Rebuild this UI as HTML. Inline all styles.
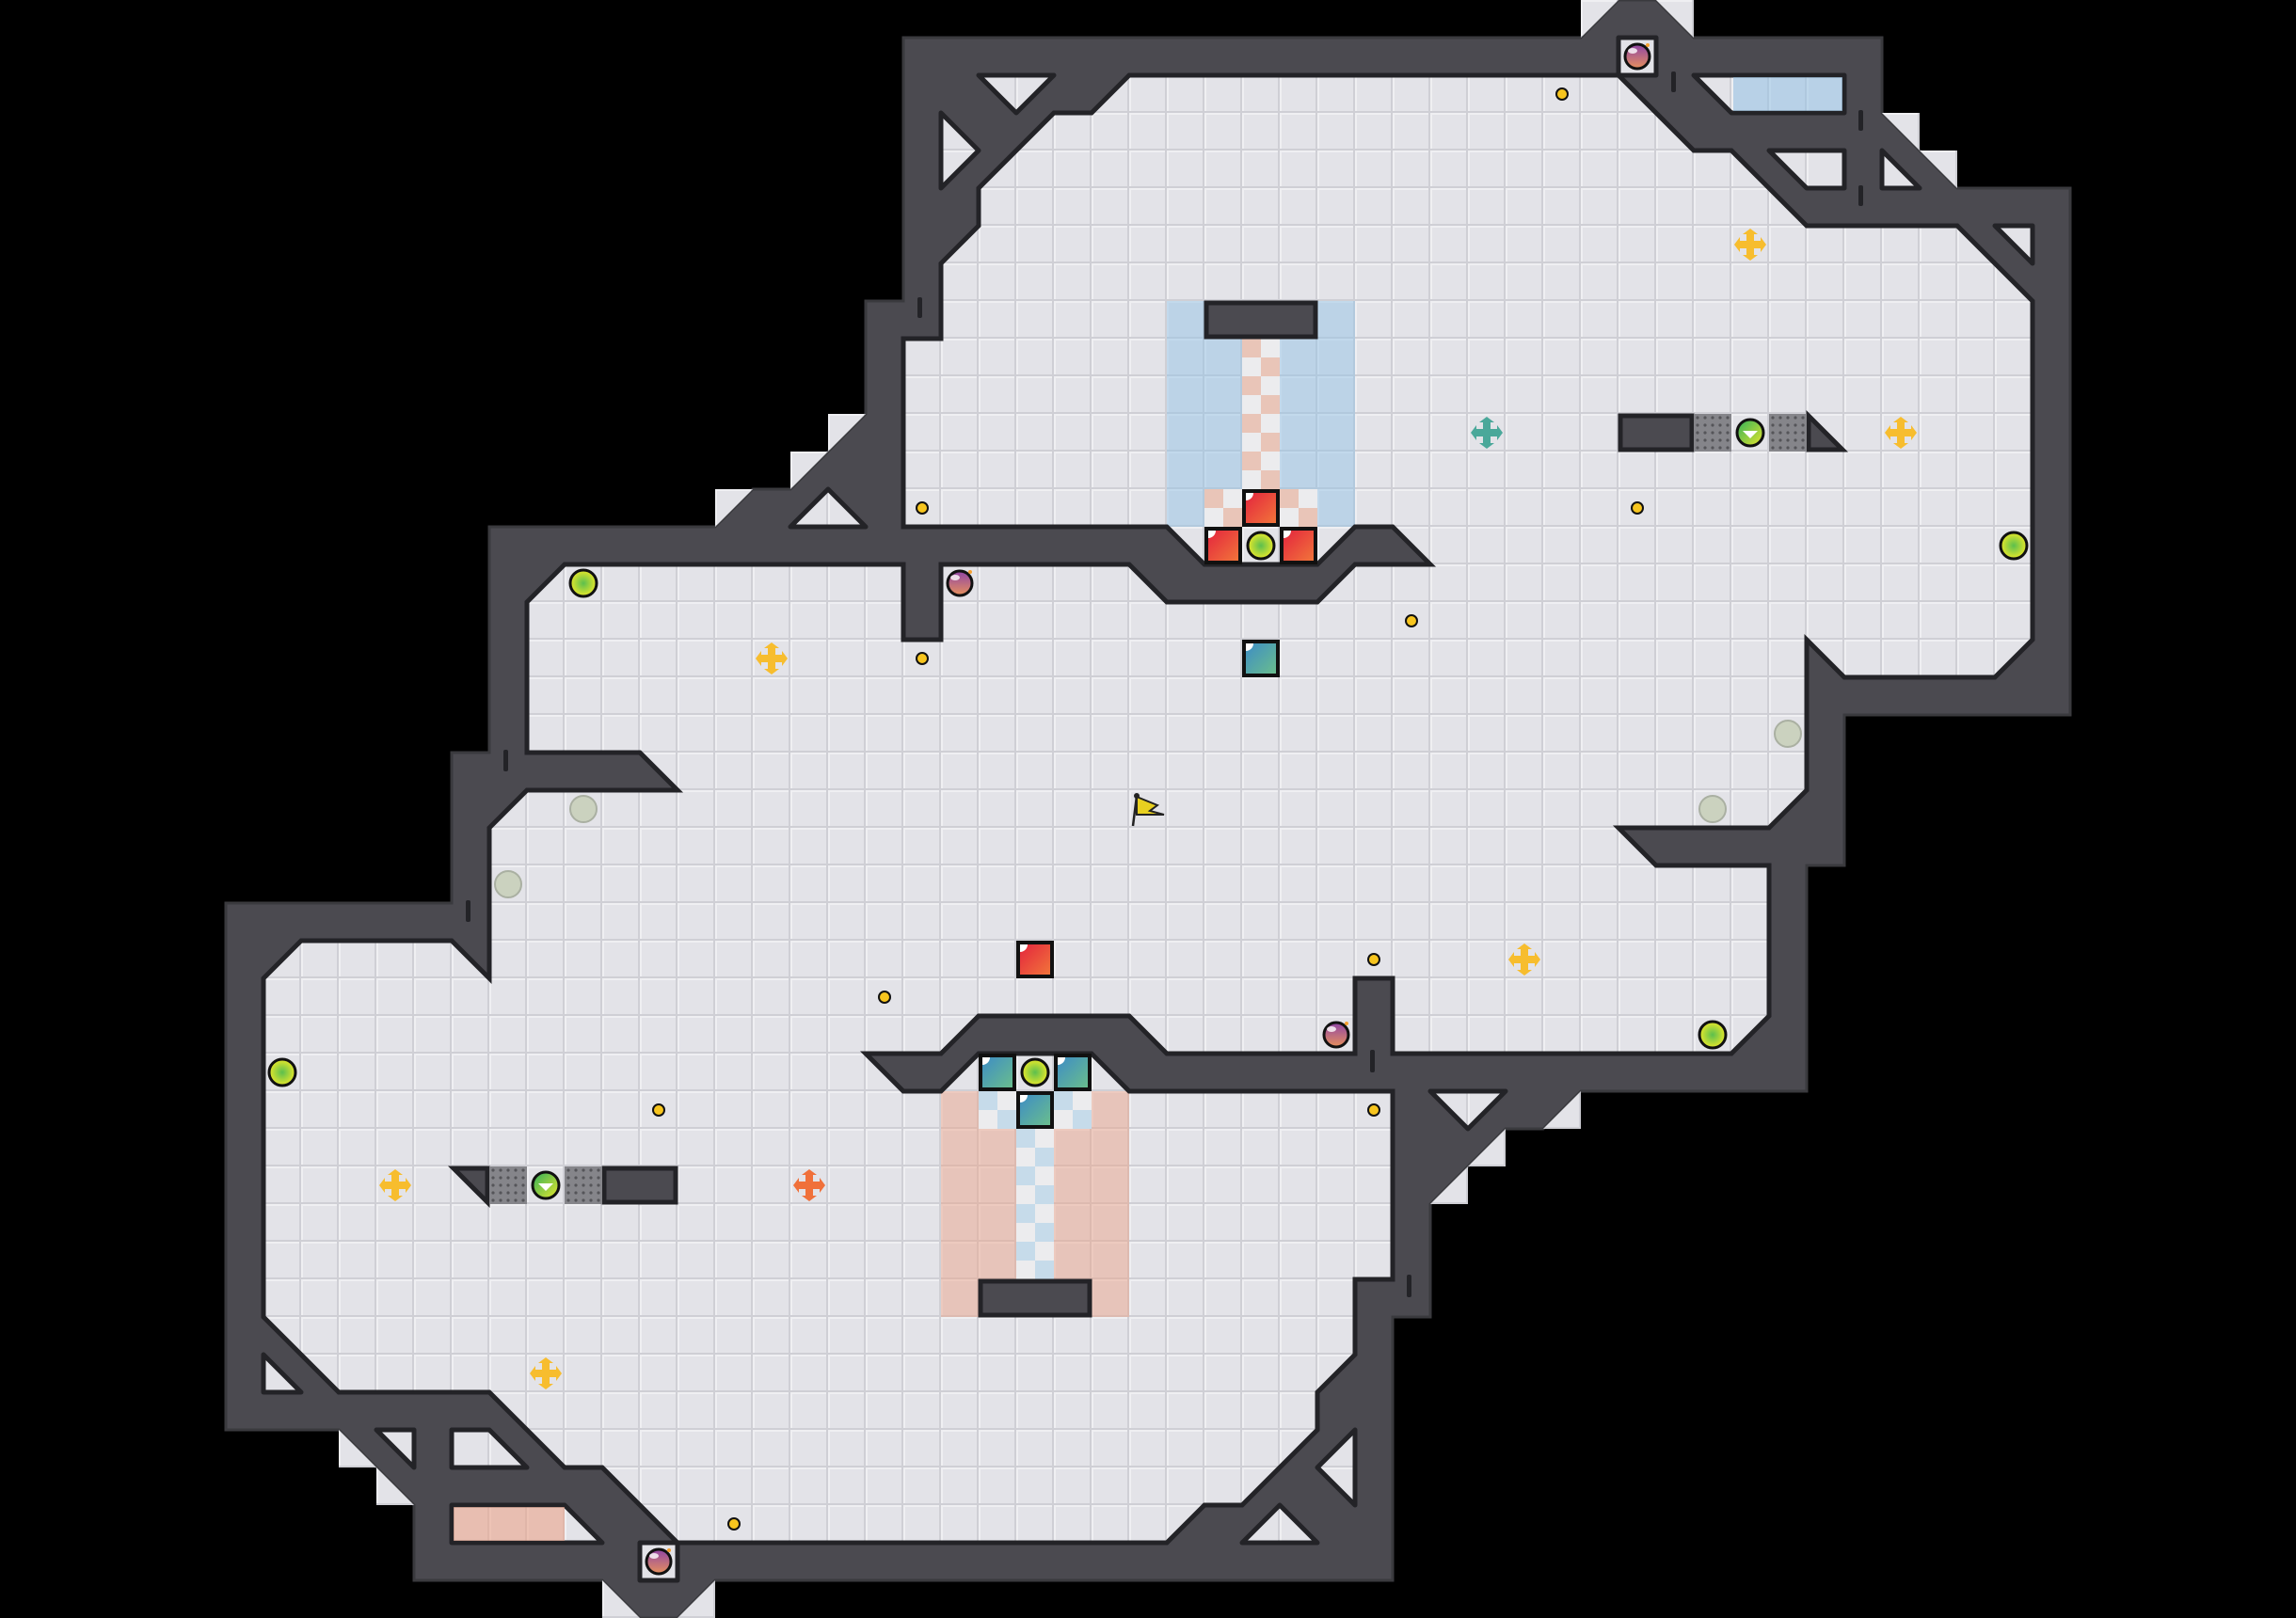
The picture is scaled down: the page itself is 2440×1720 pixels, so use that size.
<!DOCTYPE html>
<html><head><meta charset="utf-8"><style>html,body{margin:0;padding:0;background:#000}svg{display:block}</style></head>
<body>
<svg width="2440" height="1720" viewBox="0 0 2440 1720" xmlns="http://www.w3.org/2000/svg">
<defs>
<pattern id="fl" patternUnits="userSpaceOnUse" width="40" height="40">
<rect width="40" height="40" fill="#e3e3e8"/>
<rect x="0" y="0" width="40" height="2" fill="#efeff2"/>
<rect x="0" y="0" width="2" height="40" fill="#efeff2"/>
<rect x="38" y="0" width="2" height="40" fill="#cfcfd5"/>
<rect x="0" y="38" width="40" height="2" fill="#cfcfd5"/>
</pattern>
<pattern id="pk" patternUnits="userSpaceOnUse" width="40" height="40">
<rect width="40" height="40" fill="#ececee"/>
<rect width="20" height="20" fill="#e9c5b8"/>
<rect x="20" y="20" width="20" height="20" fill="#e9c5b8"/>
</pattern>
<pattern id="bk" patternUnits="userSpaceOnUse" width="40" height="40">
<rect width="40" height="40" fill="#ececee"/>
<rect width="20" height="20" fill="#c6dbea"/>
<rect x="20" y="20" width="20" height="20" fill="#c6dbea"/>
</pattern>
<pattern id="gr" patternUnits="userSpaceOnUse" width="8" height="8">
<rect width="8" height="8" fill="#85858a"/>
<circle cx="4" cy="4" r="1.6" fill="#555559"/>
</pattern>
<radialGradient id="yg" cx="0.5" cy="0.5" r="0.5"><stop offset="0" stop-color="#5cbf4e"/><stop offset="1" stop-color="#e6e82a"/></radialGradient>
<linearGradient id="pg" x1="0" y1="0" x2="0" y2="1"><stop offset="0" stop-color="#8f45a6"/><stop offset="1" stop-color="#e7905c"/></linearGradient>
<linearGradient id="rg" x1="0" y1="0" x2="1" y2="1"><stop offset="0" stop-color="#e3203e"/><stop offset="1" stop-color="#f2793a"/></linearGradient>
<linearGradient id="tg" x1="0" y1="0" x2="1" y2="1"><stop offset="0" stop-color="#3b8ac8"/><stop offset="1" stop-color="#6cc08a"/></linearGradient>
<linearGradient id="mg" x1="0" y1="0" x2="1" y2="1"><stop offset="0" stop-color="#2eae5a"/><stop offset="1" stop-color="#e8e82c"/></linearGradient>
<polygon id="crs" points="-4,-11 -8,-11 0,-17 8,-11 4,-11 4,-4 11,-4 11,-8 17,0 11,8 11,4 4,4 4,11 8,11 0,17 -8,11 -4,11 -4,4 -11,4 -11,8 -17,0 -11,-8 -11,-4 -4,-4"/>
</defs>
<rect width="2440" height="1720" fill="#000"/>

<polygon fill="#4b4a50" stroke="#3a3a3e" stroke-width="3" points="960,40 1680,40 1720,0 1760,0 1800,40 2000,40 2000,120 2080,200 2200,200 2200,760 1960,760 1960,920 1920,920 1920,1160 1680,1160 1640,1200 1600,1200 1520,1280 1520,1400 1480,1400 1480,1680 760,1680 720,1720 680,1720 640,1680 440,1680 440,1600 360,1520 240,1520 240,960 480,960 480,800 520,800 520,560 760,560 800,520 840,520 920,440 920,320 960,320"/>

<g fill="url(#fl)">
<polygon points="1680,0 1720,0 1680,40"/><polygon points="1760,0 1800,0 1800,40"/>
<polygon points="2000,120 2040,120 2040,160"/><polygon points="2040,160 2080,160 2080,200"/>
<polygon points="880,440 920,440 880,480"/><polygon points="840,480 880,480 840,520"/><polygon points="760,520 800,520 760,560"/>
<polygon points="1680,1160 1680,1200 1640,1200"/><polygon points="1600,1200 1600,1240 1560,1240"/><polygon points="1560,1240 1560,1280 1520,1280"/>
<polygon points="360,1520 360,1560 400,1560"/><polygon points="400,1560 400,1600 440,1600"/>
<polygon points="640,1680 640,1720 680,1720"/><polygon points="760,1680 760,1720 720,1720"/>
</g>

<polygon fill="url(#fl)" points="1200,80 1720,80 1800,160 1840,160 1920,240 2080,240 2160,320 2160,680 2120,720 1960,720 1920,680 1920,840 1880,880 1720,880 1760,920 1880,920 1880,1080 1840,1120 1480,1120 1480,1040 1440,1040 1440,1120 1240,1120 1200,1080 1040,1080 1000,1120 920,1120 960,1160 1000,1160 1040,1120 1160,1120 1200,1160 1480,1160 1480,1360 1440,1360 1440,1440 1400,1480 1400,1520 1320,1600 1280,1600 1240,1640 720,1640 640,1560 600,1560 520,1480 360,1480 280,1400 280,1040 320,1000 480,1000 520,1040 520,880 560,840 720,840 680,800 560,800 560,640 600,600 960,600 960,680 1000,680 1000,600 1200,600 1240,640 1400,640 1440,600 1520,600 1480,560 1440,560 1400,600 1280,600 1240,560 960,560 960,360 1000,360 1000,280 1040,240 1040,200 1120,120 1160,120"/>

<rect x="1240" y="320" width="200" height="240" fill="rgba(150,195,230,0.5)"/>
<rect x="1320" y="360" width="40" height="160" fill="url(#pk)"/>
<rect x="1280" y="520" width="120" height="40" fill="url(#pk)"/>
<rect x="1000" y="1160" width="200" height="240" fill="rgba(235,165,140,0.5)"/>
<rect x="1080" y="1200" width="40" height="160" fill="url(#bk)"/>
<rect x="1040" y="1160" width="120" height="40" fill="url(#bk)"/>

<polygon fill="none" stroke="#232327" stroke-width="5" points="1200,80 1720,80 1800,160 1840,160 1920,240 2080,240 2160,320 2160,680 2120,720 1960,720 1920,680 1920,840 1880,880 1720,880 1760,920 1880,920 1880,1080 1840,1120 1480,1120 1480,1040 1440,1040 1440,1120 1240,1120 1200,1080 1040,1080 1000,1120 920,1120 960,1160 1000,1160 1040,1120 1160,1120 1200,1160 1480,1160 1480,1360 1440,1360 1440,1440 1400,1480 1400,1520 1320,1600 1280,1600 1240,1640 720,1640 640,1560 600,1560 520,1480 360,1480 280,1400 280,1040 320,1000 480,1000 520,1040 520,880 560,840 720,840 680,800 560,800 560,640 600,600 960,600 960,680 1000,680 1000,600 1200,600 1240,640 1400,640 1440,600 1520,600 1480,560 1440,560 1400,600 1280,600 1240,560 960,560 960,360 1000,360 1000,280 1040,240 1040,200 1120,120 1160,120"/>

<g fill="url(#fl)" stroke="#232327" stroke-width="5" stroke-linejoin="round">
<polygon points="1040,80 1120,80 1080,120"/>
<polygon points="1000,120 1000,200 1040,160"/>
<polygon points="840,560 920,560 880,520"/>
<polygon points="1800,80 1960,80 1960,120 1840,120"/>
<polygon points="1880,160 1960,160 1960,200 1920,200"/>
<polygon points="2000,160 2000,200 2040,200"/>
<polygon points="2120,240 2160,240 2160,280"/>
<polygon points="1520,1160 1600,1160 1560,1200"/>
<polygon points="1440,1520 1440,1600 1400,1560"/>
<polygon points="1320,1640 1400,1640 1360,1600"/>
<polygon points="280,1440 280,1480 320,1480"/>
<polygon points="400,1520 440,1520 440,1560"/>
<polygon points="480,1520 520,1520 560,1560 480,1560"/>
<polygon points="480,1600 600,1600 640,1640 480,1640"/>
<rect x="1720" y="40" width="40" height="40"/>
<rect x="680" y="1640" width="40" height="40"/>
</g>
<rect x="1842" y="82" width="116" height="36" fill="rgba(150,195,230,0.55)"/>
<rect x="482" y="1602" width="118" height="36" fill="rgba(235,165,140,0.6)"/>

<g fill="#232327">
<rect x="975" y="316" width="5" height="22" rx="2"/>
<rect x="1776" y="76" width="5" height="22" rx="2"/>
<rect x="1975" y="117" width="5" height="22" rx="2"/>
<rect x="1975" y="197" width="5" height="22" rx="2"/>
<rect x="1456" y="1116" width="5" height="24" rx="2"/>
<rect x="1495" y="1355" width="5" height="24" rx="2"/>
<rect x="535" y="797" width="5" height="23" rx="2"/>
<rect x="495" y="957" width="5" height="23" rx="2"/>
</g>

<g fill="#4b4a50" stroke="#232327" stroke-width="5">
<rect x="1282" y="322" width="116" height="36"/>
<rect x="1042" y="1362" width="116" height="36"/>
<rect x="642" y="1242" width="76" height="36"/>
<rect x="1722" y="442" width="76" height="36"/>
<polygon points="482,1242 518,1242 518,1278"/>
<polygon points="1922,442 1922,478 1958,478"/>
</g>
<g fill="url(#gr)">
<rect x="520" y="1240" width="40" height="40"/><rect x="600" y="1240" width="40" height="40"/>
<rect x="1800" y="440" width="40" height="40"/><rect x="1880" y="440" width="40" height="40"/>
</g>
<g stroke="#111" stroke-width="3">
<circle cx="580" cy="1260" r="14" fill="url(#mg)"/>
<circle cx="1860" cy="460" r="14" fill="url(#mg)"/>
</g>
<g fill="#fff"><polygon points="572,1258 588,1258 580,1266"/><polygon points="1852,458 1868,458 1860,466"/></g>

<g stroke="#111" stroke-width="4">
<rect x="1322" y="522" width="36" height="36" fill="url(#rg)"/>
<rect x="1282" y="562" width="36" height="36" fill="url(#rg)"/>
<rect x="1362" y="562" width="36" height="36" fill="url(#rg)"/>
<rect x="1082" y="1002" width="36" height="36" fill="url(#rg)"/>
<rect x="1042" y="1122" width="36" height="36" fill="url(#tg)"/>
<rect x="1122" y="1122" width="36" height="36" fill="url(#tg)"/>
<rect x="1082" y="1162" width="36" height="36" fill="url(#tg)"/>
<rect x="1322" y="682" width="36" height="36" fill="url(#tg)"/>
</g>
<g fill="#fff">
<path d="M1324,524 h8 a8,8 0 0 1 -8,8z"/><path d="M1284,564 h8 a8,8 0 0 1 -8,8z"/><path d="M1364,564 h8 a8,8 0 0 1 -8,8z"/>
<path d="M1084,1004 h8 a8,8 0 0 1 -8,8z"/><path d="M1044,1124 h8 a8,8 0 0 1 -8,8z"/><path d="M1124,1124 h8 a8,8 0 0 1 -8,8z"/>
<path d="M1084,1164 h8 a8,8 0 0 1 -8,8z"/><path d="M1324,684 h8 a8,8 0 0 1 -8,8z"/>
</g>

<g fill="url(#yg)" stroke="#111" stroke-width="3">
<circle cx="620" cy="620" r="14"/><circle cx="2140" cy="580" r="14"/>
<circle cx="300" cy="1140" r="14"/><circle cx="1820" cy="1100" r="14"/>
<circle cx="1340" cy="580" r="14"/><circle cx="1100" cy="1140" r="14"/>
</g>
<g fill="#cbd2bf" stroke="#aab0a2" stroke-width="2">
<circle cx="620" cy="860" r="14"/><circle cx="540" cy="940" r="14"/>
<circle cx="1900" cy="780" r="14"/><circle cx="1820" cy="860" r="14"/>
</g>
<g fill="url(#pg)" stroke="#111" stroke-width="3">
<circle cx="1020" cy="620" r="13"/><circle cx="1420" cy="1100" r="13"/>
<circle cx="1740" cy="60" r="13"/><circle cx="700" cy="1660" r="13"/>
</g>
<g fill="#fff" opacity="0.8">
<ellipse cx="1015" cy="614" rx="5" ry="3"/><ellipse cx="1415" cy="1094" rx="5" ry="3"/>
<ellipse cx="1735" cy="54" rx="5" ry="3"/><ellipse cx="695" cy="1654" rx="5" ry="3"/>
</g>
<g fill="#f5a030"><circle cx="1031" cy="608" r="2"/><circle cx="1431" cy="1088" r="2"/><circle cx="1751" cy="48" r="2"/><circle cx="711" cy="1648" r="2"/></g>

<g fill="#f7c51e" stroke="#111" stroke-width="2">
<circle cx="1660" cy="100" r="6"/><circle cx="980" cy="540" r="6"/><circle cx="1740" cy="540" r="6"/>
<circle cx="1500" cy="660" r="6"/><circle cx="980" cy="700" r="6"/><circle cx="1460" cy="1020" r="6"/>
<circle cx="940" cy="1060" r="6"/><circle cx="1460" cy="1180" r="6"/><circle cx="700" cy="1180" r="6"/>
<circle cx="780" cy="1620" r="6"/>
</g>

<g fill="#f7bd2e">
<use href="#crs" x="1860" y="260"/><use href="#crs" x="2020" y="460"/><use href="#crs" x="820" y="700"/>
<use href="#crs" x="1620" y="1020"/><use href="#crs" x="420" y="1260"/><use href="#crs" x="580" y="1460"/>
</g>
<use href="#crs" x="1580" y="460" fill="#4aa89a"/>
<use href="#crs" x="860" y="1260" fill="#f0703a"/>

<g>
<line x1="1204" y1="878" x2="1208" y2="846" stroke="#222" stroke-width="2.5"/>
<polygon points="1208,847 1230,856 1222,862 1237,866 1208,866" fill="#e8d020" stroke="#222" stroke-width="2"/>
<circle cx="1208" cy="846" r="3" fill="#222"/>
</g>
</svg>
</body></html>
